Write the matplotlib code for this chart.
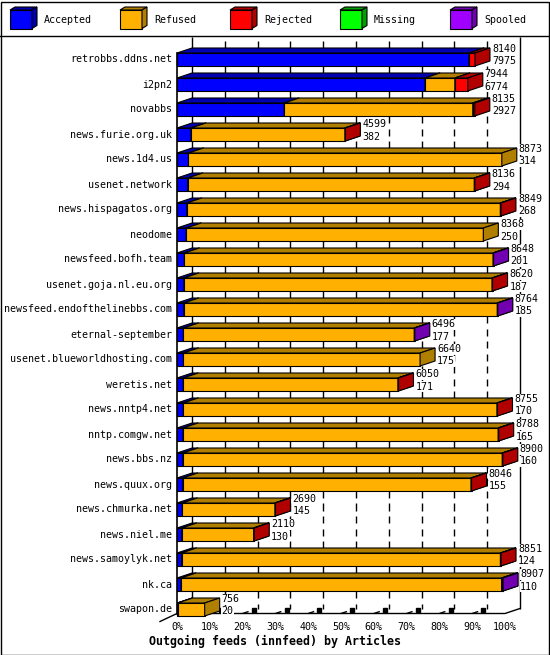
import matplotlib
matplotlib.use("Agg")
import matplotlib.pyplot as plt
from matplotlib.patches import Polygon, Rectangle
from matplotlib.lines import Line2D
from matplotlib.collections import LineCollection

# ---------------- data ----------------
hosts = ["retrobbs.ddns.net", "i2pn2", "novabbs", "news.furie.org.uk", "news.1d4.us",
         "usenet.network", "news.hispagatos.org", "neodome", "newsfeed.bofh.team",
         "usenet.goja.nl.eu.org", "newsfeed.endofthelinebbs.com", "eternal-september",
         "usenet.blueworldhosting.com", "weretis.net", "news.nntp4.net", "nntp.comgw.net",
         "news.bbs.nz", "news.quux.org", "news.chmurka.net", "news.niel.me",
         "news.samoylyk.net", "nk.ca", "swapon.de"]
offered = [8140, 7944, 8135, 4599, 8873, 8136, 8849, 8368, 8648, 8620, 8764, 6496,
           6640, 6050, 8755, 8788, 8900, 8046, 2690, 2110, 8851, 8907, 756]
accepted = [7975, 6774, 2927, 382, 314, 294, 268, 250, 201, 187, 185, 177,
            175, 171, 170, 165, 160, 155, 145, 130, 124, 110, 20]
refused = [0, 816, 5153, 4205, 8559, 7827, 8566, 8118, 8432, 8418, 8564, 6304,
           6465, 5864, 8570, 8608, 8725, 7876, 2530, 1965, 8712, 8757, 736]
rejected = [165, 354, 55, 12, 0, 15, 15, 0, 0, 15, 0, 0,
            0, 15, 15, 15, 15, 15, 15, 15, 15, 30, 0]
missing = [0] * 23
spooled = [0, 0, 0, 0, 0, 0, 0, 0, 15, 0, 15, 15,
           0, 0, 0, 0, 0, 0, 0, 0, 0, 10, 0]
axis_max_articles = 8960
series_names = ["Accepted", "Refused", "Rejected", "Missing", "Spooled"]
pct_ticks = [0, 10, 20, 30, 40, 50, 60, 70, 80, 90, 100]
title = "Outgoing feeds (innfeed) by Articles"

# ---------------- style ----------------
front_cols = ["#0000FF", "#FFB000", "#FF0000", "#00FF00", "#A000FF"]
shade_cols = ["#0000B0", "#B07F00", "#B00000", "#00A000", "#7000B0"]
MONO = "DejaVu Sans Mono"
FS = 7.2
LW = 1.0

W, H = 550, 655
fig = plt.figure(figsize=(W / 100, H / 100), dpi=100)
ax = fig.add_axes([0, 0, 1, 1])
X0, PPX = 177.0, 3.28      # px of 0 %, px per %
Y0, PPY = 59.5, 25.0       # px of first row centre, px per row
ax.set_xlim(-X0 / PPX, (W - X0) / PPX)
ax.set_ylim((H - Y0) / PPY, -Y0 / PPY)
ax.axis("off")

def px(xp, yp):
    return ((xp - X0) / PPX, (yp - Y0) / PPY)

DX = 15 / PPX      # depth in %
DY = -5 / PPY      # depth in rows (upwards)
HH = 6.5 / PPY     # half height of bar front
n = len(hosts)
floor_y = (613.5 - Y0) / PPY
top_y = (37 - Y0) / PPY

# outer border and legend separator
ax.add_patch(Rectangle((0.5 / W, 0.5 / H), (W - 2) / W, (H - 2) / H, transform=fig.transFigure,
                       fill=False, ec="black", lw=LW, zorder=10))
ax.add_line(Line2D([0, 1], [1 - 35.5 / H, 1 - 35.5 / H], transform=fig.transFigure,
                   color="black", lw=LW, zorder=10))

# back wall and dashed gridlines (dash pattern: 7 px on, 5.5 px off)
dash_on, dash_period = 7 / PPY, 12.5 / PPY
grid_segs = []
for p in pct_ticks:
    xb = p + DX
    if p in (0, 100):
        grid_segs.append([(xb, top_y), (xb, floor_y + DY)])
    else:
        y = (41 - Y0) / PPY
        while y < floor_y + DY:
            grid_segs.append([(xb, y), (xb, min(y + dash_on, floor_y + DY))])
            y += dash_period
        grid_segs.append([(p, floor_y), (p + DX * 0.4, floor_y + DY * 0.4)])
        ax.plot([p + DX * 0.75], [floor_y + DY * 0.75], marker="s", ms=2.2,
                color="black", zorder=1)
    ax.text(p, (627 - Y0) / PPY, f"{p}%", ha="center", va="center",
            fontsize=FS, family=MONO)
ax.add_collection(LineCollection(grid_segs, colors="black", linewidths=LW, zorder=1))

# floor lines and front axis
ax.plot([0, 100, 100 + DX], [floor_y, floor_y, floor_y + DY], color="black", lw=LW, zorder=2)
lx, ly = px(160, 621.5)
ax.plot([lx, 0], [ly, floor_y], color="black", lw=LW, zorder=2)
ax.plot([0, 0], [-HH, floor_y], color="black", lw=1.2, zorder=2)

def box(a, b, r, fc, sc, z):
    front = Polygon([(a, r - HH), (b, r - HH), (b, r + HH), (a, r + HH)], closed=True,
                    fc=fc, ec="black", lw=0.8, zorder=z)
    top = Polygon([(a, r - HH), (b, r - HH), (b + DX, r - HH + DY), (a + DX, r - HH + DY)],
                  closed=True, fc=sc, ec="black", lw=0.8, zorder=z)
    side = Polygon([(b, r - HH), (b, r + HH), (b + DX, r + HH + DY), (b + DX, r - HH + DY)],
                   closed=True, fc=sc, ec="black", lw=0.8, zorder=z)
    for pch in (front, top, side):
        ax.add_patch(pch)

series = [accepted, refused, rejected, missing, spooled]
for i, h in enumerate(hosts):
    start = 0.0
    z = 3
    for k, s in enumerate(series):
        v = s[i]
        if v <= 0:
            continue
        end = start + v / axis_max_articles * 100
        box(start, end, i, front_cols[k], shade_cols[k], z)
        z += 0.01
        start = end
    ax.text(-5 / PPX, i, h, ha="right", va="center", fontsize=FS, family=MONO)
    tx = start + DX + 2 / PPX
    bb = dict(facecolor="white", edgecolor="none", pad=0.3)
    ax.text(tx, i - 0.41, str(offered[i]), ha="left", va="center", fontsize=FS,
            family=MONO, bbox=bb, zorder=6)
    ax.text(tx, i + 0.08, str(accepted[i]), ha="left", va="center", fontsize=FS,
            family=MONO, bbox=bb, zorder=6)

# legend
for k, name in enumerate(series_names):
    lx0 = 10 + 110 * k
    x1, y1 = px(lx0, 10)
    x2, y2 = px(lx0 + 22, 28.5)
    dxl = 5 / PPX
    dyl = -3 / PPY
    ax.add_patch(Polygon([(x1, y1), (x2, y1), (x2, y2), (x1, y2)], fc=front_cols[k],
                         ec="black", lw=0.8, zorder=8))
    ax.add_patch(Polygon([(x1, y1), (x2, y1), (x2 + dxl, y1 + dyl), (x1 + dxl, y1 + dyl)],
                         fc=shade_cols[k], ec="black", lw=0.8, zorder=8))
    ax.add_patch(Polygon([(x2, y1), (x2, y2), (x2 + dxl, y2 + dyl), (x2 + dxl, y1 + dyl)],
                         fc=shade_cols[k], ec="black", lw=0.8, zorder=8))
    tx, ty = px(lx0 + 34, 20)
    ax.text(tx, ty, name, ha="left", va="center", fontsize=FS, family=MONO)

fig.text(0.5, 1 - 641 / H, title, ha="center", va="center", fontsize=8.4,
         family=MONO, fontweight="bold")

fig.savefig("out.png", dpi=100)
